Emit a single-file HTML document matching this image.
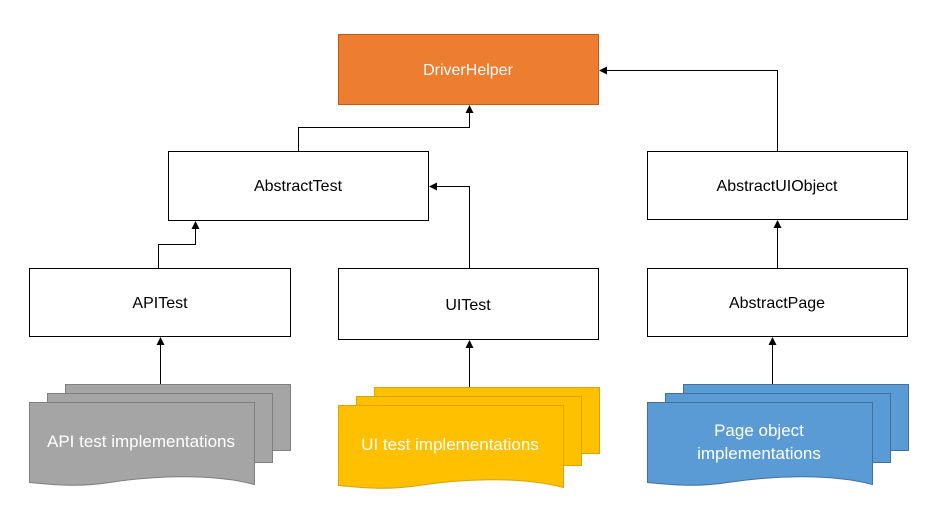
<!DOCTYPE html>
<html><head><style>body{margin:0;background:#fff}svg{display:block}</style></head><body>
<svg width="939" height="517" xmlns="http://www.w3.org/2000/svg" font-family="Liberation Sans, sans-serif" font-size="16">
<defs>
<marker id="a" markerWidth="8" markerHeight="8" refX="7" refY="4" orient="auto" markerUnits="userSpaceOnUse"><path d="M0,0L8,4L0,8z" fill="#000"/></marker>
<g id="doc">
<rect x="36" y="-18" width="225" height="66"/>
<rect x="18" y="-9" width="225" height="69"/>
<path d="M0,0H225V82C180,70 120,74 80,80C50,85 20,82 0,80Z"/>
</g>
</defs>
<rect x="338.5" y="34.5" width="260" height="70" fill="#ED7D31" stroke="#C55A11"/>
<text x="468" y="75" fill="#fff" text-anchor="middle">DriverHelper</text>
<g fill="#fff" stroke="#000">
<rect x="168.5" y="151.5" width="260" height="69"/>
<rect x="647.5" y="151.5" width="260" height="68"/>
<rect x="29.5" y="268.5" width="261" height="68"/>
<rect x="338.5" y="268.5" width="260" height="71"/>
<rect x="647.5" y="268.5" width="260" height="68"/>
</g>
<g text-anchor="middle" fill="#000">
<text x="298" y="191">AbstractTest</text>
<text x="777" y="191">AbstractUIObject</text>
<text x="160" y="308">APITest</text>
<text x="468" y="310">UITest</text>
<text x="777" y="308">AbstractPage</text>
</g>
<g fill="none" stroke="#000" stroke-width="1" marker-end="url(#a)">
<path d="M298.5,151V127.5H469.5V106"/>
<path d="M469.5,268V186.5H430"/>
<path d="M158.5,268V244.5H195.5V222"/>
<path d="M777.5,151V70.5H600"/>
<path d="M777.5,268V221"/>
<path d="M160.5,384V338"/>
<path d="M469.5,388V341"/>
<path d="M772.5,384V338"/>
</g>
<g fill="#A5A5A5" stroke="#7F7F7F"><use href="#doc" x="29.5" y="402.5"/></g>
<g fill="#FFC000" stroke="#D9A300"><use href="#doc" x="338.5" y="405.5"/></g>
<g fill="#5B9BD5" stroke="#41719C"><use href="#doc" x="647.5" y="402.5"/></g>
<g fill="#fff" text-anchor="middle" font-size="17">
<text x="141" y="447">API test implementations</text>
<text x="450" y="450">UI test implementations</text>
<text x="759" y="436">Page object</text>
<text x="759" y="459">implementations</text>
</g>
</svg>
</body></html>
